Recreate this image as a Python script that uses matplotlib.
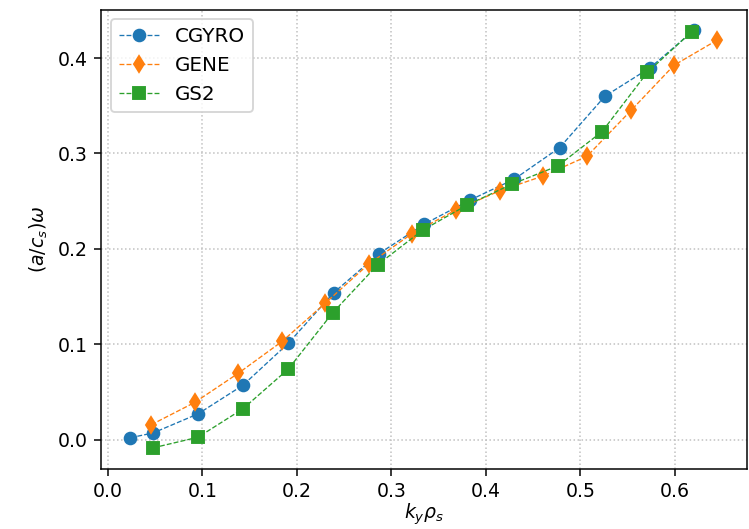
import matplotlib
matplotlib.use("Agg")
import matplotlib.pyplot as plt

# Real frequency versus binormal wavenumber for three gyrokinetic codes
cgyro_k = [0.024, 0.048, 0.0955, 0.143, 0.191, 0.239, 0.287, 0.335, 0.383, 0.430, 0.478, 0.526, 0.574, 0.620]
cgyro_w = [0.002, 0.007, 0.027, 0.057, 0.101, 0.154, 0.195, 0.226, 0.251, 0.273, 0.306, 0.360, 0.390, 0.429]

gene_k = [0.046, 0.092, 0.138, 0.1845, 0.230, 0.276, 0.322, 0.368, 0.415, 0.461, 0.507, 0.554, 0.599, 0.645]
gene_w = [0.0156, 0.039, 0.0695, 0.103, 0.143, 0.184, 0.216, 0.2406, 0.261, 0.2765, 0.297, 0.3455, 0.3924, 0.419]

gs2_k = [0.048, 0.0955, 0.143, 0.191, 0.238, 0.2855, 0.333, 0.380, 0.428, 0.476, 0.523, 0.571, 0.618]
gs2_w = [-0.0086, 0.0025, 0.0323, 0.074, 0.133, 0.1833, 0.2195, 0.2458, 0.268, 0.2868, 0.3229, 0.3851, 0.4278]

dpi = 136
fig = plt.figure(figsize=(749 / dpi, 529 / dpi), dpi=dpi)
ax = fig.add_axes([0.135, 0.114, 0.862, 0.868])

line_kw = dict(linestyle="--", linewidth=0.7, markersize=6.2)
ax.plot(cgyro_k, cgyro_w, marker="o", color="#1f77b4", label="CGYRO", **line_kw)
ax.plot(gene_k, gene_w, marker="d", color="#ff7f0e", label="GENE", **line_kw)
ax.plot(gs2_k, gs2_w, marker="s", color="#2ca02c", label="GS2", **line_kw)

ax.grid(True, linestyle=":", color="#c0c0c0", linewidth=0.8)
ax.set_xlabel(r"$k_y\rho_s$", labelpad=0.5)
ax.set_ylabel(r"$(a/c_s)\omega$")
ax.legend(loc="upper left", fontsize=10.5)

fig.savefig("out.png", dpi=dpi)
